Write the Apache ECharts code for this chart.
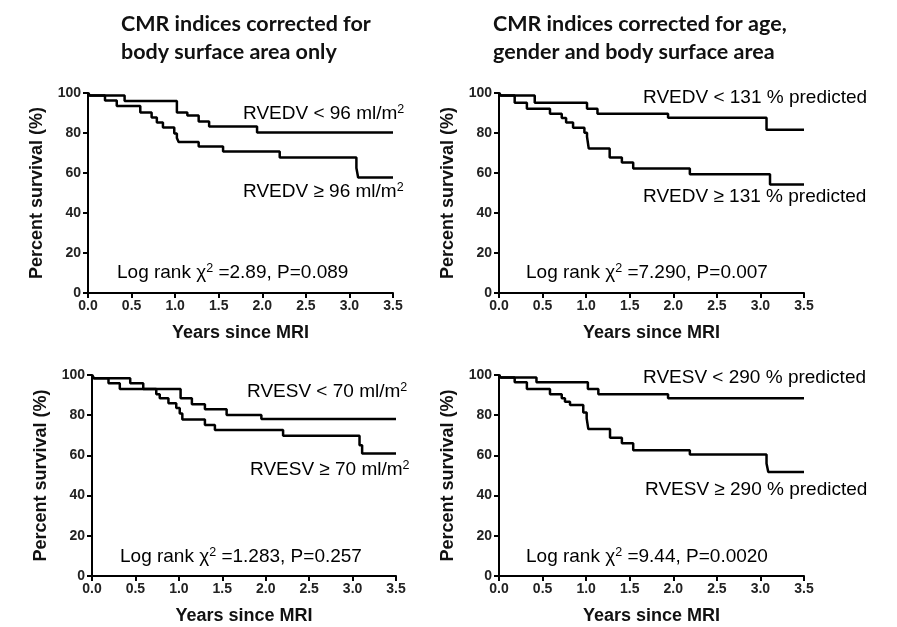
<!DOCTYPE html>
<html><head><meta charset="utf-8">
<script src="https://cdn.jsdelivr.net/npm/echarts@6/dist/echarts.min.js"></script>
<style>html,body{margin:0;padding:0;background:#fff}#c{width:897px;height:627px}</style>
</head><body><div id="c"></div><script>
// ---- data (years since MRI, percent survival) ----
const p1LowT  = [0, 0.02, 0.42, 1.02, 1.14, 1.27, 1.39, 1.94, 3.5];
const p1LowS  = [100, 98.8, 96.0, 90.3, 88.7, 85.7, 83.2, 80.2, 80.2];
const p1HighT = [0, 0.02, 0.195, 0.33, 0.60, 0.73, 0.79, 0.86, 0.99, 1.02, 1.04, 1.27, 1.55, 2.20, 3.08, 3.10, 3.5];
const p1HighS = [100, 98.8, 96.2, 93.5, 90.3, 87.7, 85.3, 82.7, 79.8, 77.5, 75.5, 73.2, 70.7, 67.8, 62.5, 57.8, 57.8];

const p2LowT  = [0, 0.02, 0.41, 1.01, 1.13, 1.94, 3.07, 3.5];
const p2LowS  = [100, 98.8, 95.1, 92.1, 89.6, 87.6, 81.6, 81.6];
const p2HighT = [0, 0.02, 0.18, 0.32, 0.585, 0.72, 0.77, 0.85, 0.98, 1.01, 1.03, 1.27, 1.41, 1.54, 2.19, 3.11, 3.5];
const p2HighS = [100, 98.8, 95.1, 92.1, 89.6, 87.5, 85.2, 82.6, 80.1, 78.1, 72.2, 67.7, 65.2, 62.2, 59.4, 54.2, 54.2];

const p3LowT  = [0, 0.02, 0.44, 0.59, 1.02, 1.15, 1.30, 1.55, 1.95, 3.5];
const p3LowS  = [100, 98.4, 95.9, 93.0, 88.4, 85.5, 82.9, 80.1, 78.1, 78.1];
const p3HighT = [0, 0.02, 0.19, 0.32, 0.74, 0.78, 0.88, 0.97, 1.01, 1.04, 1.30, 1.415, 2.20, 3.08, 3.11, 3.5];
const p3HighS = [100, 98.4, 95.9, 93.0, 90.4, 88.4, 85.9, 83.6, 80.9, 77.9, 75.1, 72.6, 69.8, 65.1, 61.0, 61.0];

const p4LowT  = [0, 0.02, 0.43, 1.02, 1.14, 1.94, 3.5];
const p4LowS  = [100, 98.7, 96.4, 93.0, 90.4, 88.4, 88.4];
const p4HighT = [0, 0.02, 0.18, 0.32, 0.585, 0.72, 0.757, 0.815, 0.967, 1.006, 1.025, 1.274, 1.41, 1.54, 2.19, 3.07, 3.09, 3.5];
const p4HighS = [100, 98.7, 96.4, 93.0, 90.4, 88.4, 86.7, 85.1, 81.4, 78.4, 73.1, 68.8, 66.0, 62.6, 60.5, 56.0, 51.8, 51.8];

const titleLeft  = 'CMR indices corrected for\nbody surface area only';
const titleRight = 'CMR indices corrected for age,\ngender and body surface area';
const xName = 'Years since MRI';
const yName = 'Percent survival (%)';
const labelsHigh = ['RVEDV < 96 ml/m', 'RVEDV < 131 % predicted', 'RVESV < 70 ml/m', 'RVESV < 290 % predicted'];
const labelsLow  = ['RVEDV \u2265 96 ml/m', 'RVEDV \u2265 131 % predicted', 'RVESV \u2265 70 ml/m', 'RVESV \u2265 290 % predicted'];
const labelSup   = [true, false, true, false];
const logRank    = ['=2.89, P=0.089', '=7.290, P=0.007', '=1.283, P=0.257', '=9.44, P=0.0020'];

// ---- layout ----
const grids = [
  {left: 88,  top: 93,  width: 305, height: 200},
  {left: 499, top: 93,  width: 305, height: 200},
  {left: 92,  top: 375, width: 304, height: 201},
  {left: 499, top: 375, width: 305, height: 201}
];
const textPos = [
  {hi: [243, 114], lo: [243, 192], lr: [117, 273]},
  {hi: [643, 98],  lo: [643, 197], lr: [526, 273]},
  {hi: [247, 392], lo: [250, 470], lr: [120, 557]},
  {hi: [643, 378], lo: [645, 490], lr: [526, 557]}
];
const seriesData = [
  [[p1LowT, p1LowS], [p1HighT, p1HighS]],
  [[p2LowT, p2LowS], [p2HighT, p2HighS]],
  [[p3LowT, p3LowS], [p3HighT, p3HighS]],
  [[p4LowT, p4LowS], [p4HighT, p4HighS]]
];

const FF = '"Liberation Sans", Arial, sans-serif';
const xAxes = [], yAxes = [], series = [], graphics = [];
const rich = {
  n: {fontSize: 19, fontFamily: FF, color: '#111', lineHeight: 22},
  s: {fontSize: 12.5, fontFamily: FF, color: '#111', verticalAlign: 'top', lineHeight: 10}
};
grids.forEach((g, i) => {
  xAxes.push({
    type: 'value', gridIndex: i, min: 0, max: 3.5, interval: 0.5,
    axisLine: {show: true, onZero: false, lineStyle: {color: '#000', width: 2}},
    axisTick: {show: true, length: 5, lineStyle: {color: '#000', width: 2}},
    axisLabel: {formatter: v => v.toFixed(1), fontWeight: 'bold', fontSize: 14, color: '#222', margin: 6, fontFamily: FF},
    splitLine: {show: false},
    name: xName, nameLocation: 'middle', nameGap: 31,
    nameTextStyle: {fontWeight: 'bold', fontSize: 18, color: '#111', fontFamily: FF}
  });
  yAxes.push({
    type: 'value', gridIndex: i, min: 0, max: 100, interval: 20,
    axisLine: {show: true, onZero: false, lineStyle: {color: '#000', width: 2}},
    axisTick: {show: true, length: 5, lineStyle: {color: '#000', width: 2}},
    axisLabel: {fontWeight: 'bold', fontSize: 14, color: '#222', margin: 7, fontFamily: FF},
    splitLine: {show: false},
    name: yName, nameLocation: 'middle', nameGap: 42,
    nameTextStyle: {fontWeight: 'bold', fontSize: 18, color: '#111', fontFamily: FF}
  });
  seriesData[i].forEach(([t, s]) => {
    series.push({
      type: 'line', xAxisIndex: i, yAxisIndex: i, step: 'end', showSymbol: false,
      lineStyle: {color: '#000', width: 2.5}, silent: true,
      data: t.map((v, k) => [v, s[k]])
    });
  });
  const p = textPos[i];
  const sup = labelSup[i] ? '{s|2}' : '';
  graphics.push({type: 'text', x: p.hi[0], y: p.hi[1], style: {text: '{n|' + labelsHigh[i] + '}' + sup, rich, verticalAlign: 'middle'}});
  graphics.push({type: 'text', x: p.lo[0], y: p.lo[1], style: {text: '{n|' + labelsLow[i] + '}' + sup, rich, verticalAlign: 'middle'}});
  graphics.push({type: 'text', x: p.lr[0], y: p.lr[1], style: {text: '{n|Log rank \u03c7}{s|2}{n| ' + logRank[i] + '}', rich, verticalAlign: 'middle'}});
});

const chart = echarts.init(document.getElementById('c'), null, {renderer: 'canvas'});
const TS = {fontFamily: 'Lato, "Open Sans", sans-serif', fontWeight: 'bold', fontSize: 21.5, lineHeight: 28, color: '#111'};
chart.setOption({
  animation: false,
  backgroundColor: '#fff',
  title: [
    {text: titleLeft, left: 116, top: 5, textStyle: TS},
    {text: titleRight, left: 488, top: 5, textStyle: TS}
  ],
  grid: grids,
  xAxis: xAxes,
  yAxis: yAxes,
  series: series,
  graphic: graphics
});
</script></body></html>
